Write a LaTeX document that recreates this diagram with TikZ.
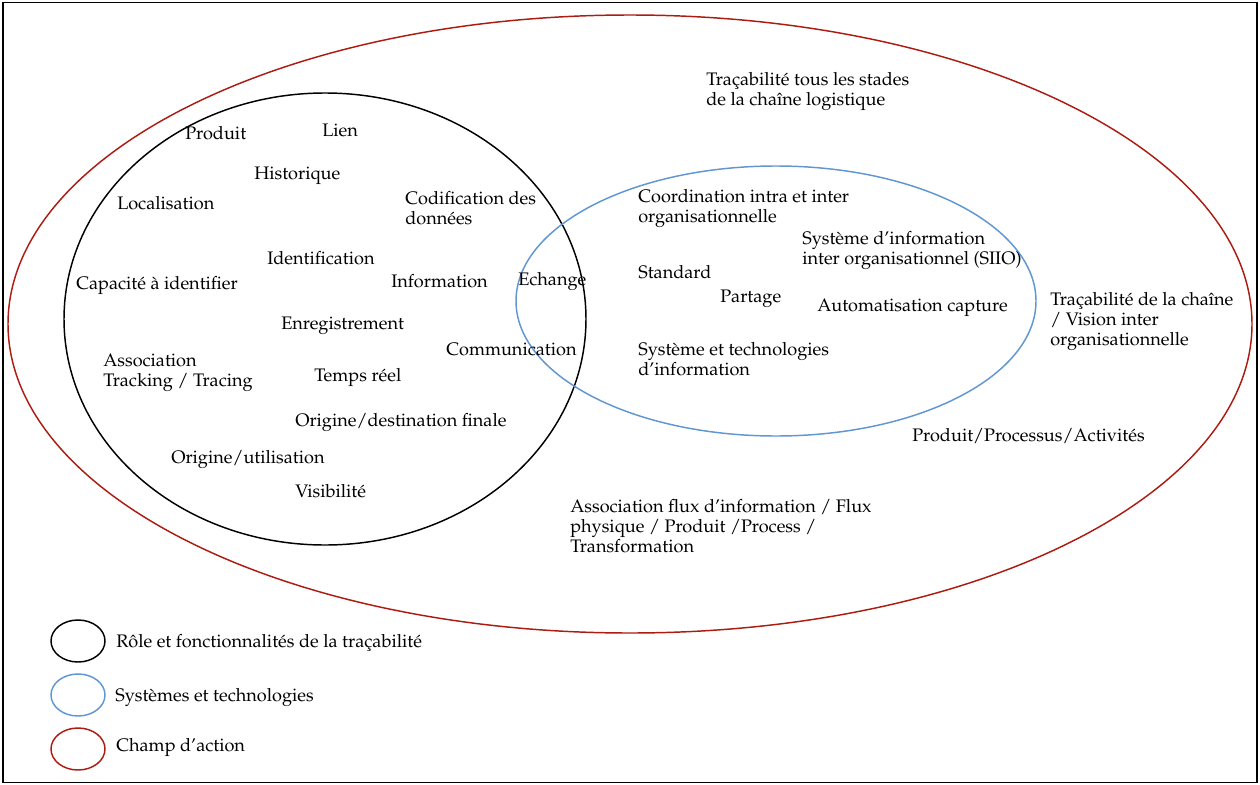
\documentclass[tikz,border=0pt]{standalone}
\usepackage[T1]{fontenc}
\usepackage{mathpazo}
\usetikzlibrary{shapes.geometric}

\definecolor{rouge}{RGB}{172,28,18}
\definecolor{bleu}{RGB}{96,150,210}

\tikzset{
  txt/.style={anchor=west, align=left, inner sep=0pt, yshift=-1.5pt, font=\fontsize{13.6}{15}\selectfont},
  ens/.style={ellipse, draw, line width=1.1pt, inner sep=0pt},
  leg/.style={ens, minimum width=40.5pt, minimum height=31.5pt}
}

\begin{document}
\begin{tikzpicture}[x=0.75pt, y=-0.75pt]
  \useasboundingbox (0,0) rectangle (1260,785);
  \node [draw, line width=1.2pt, minimum width=940.5pt, minimum height=585pt, inner sep=0pt] (cadre) at (630,392.5) {};

  % ensembles
  \node [ens, draw=rouge, minimum width=933pt, minimum height=463.5pt] (champ) at (630,324) {};
  \node [ens, draw=black, minimum width=391.5pt, minimum height=339pt] (role) at (325,319) {};
  \node [ens, draw=bleu, minimum width=390pt, minimum height=202.5pt] (sys) at (776,301) {};

  % role et fonctionnalites
  \node [txt] (produit) at (185,131) {Produit};
  \node [txt] (lien) at (322,128) {Lien};
  \node [txt] (histo) at (254,174) {Historique};
  \node [txt] (local) at (117,201) {Localisation};
  \node [txt] (codif) at (405,206) {Codification des\\données};
  \node [txt] (ident) at (267,256) {Identification};
  \node [txt] (capac) at (76,283) {Capacité à identifier};
  \node [txt] (info) at (391,279) {Information};
  \node [txt] (echange) at (518,279) {Echange};
  \node [txt] (enreg) at (281,324) {Enregistrement};
  \node [txt] (comm) at (446,347) {Communication};
  \node [txt] (assoc) at (103,371) {Association\\Tracking\ /\ Tracing};
  \node [txt] (temps) at (314,375) {Temps réel};
  \node [txt] (origdest) at (295,420) {Origine/destination finale};
  \node [txt] (origutil) at (171,457) {Origine/utilisation};
  \node [txt] (visib) at (295,489) {Visibilité};

  % systemes et technologies
  \node [txt] (coord) at (638,206) {Coordination intra et inter\\organisationnelle};
  \node [txt] (siio) at (802,248) {Système d'information\\inter organisationnel (SIIO)};
  \node [txt] (standard) at (638,270) {Standard};
  \node [txt] (partage) at (720,297) {Partage};
  \node [txt] (autom) at (817,306) {Automatisation capture};
  \node [txt] (systech) at (638,357) {Système et technologies\\d'information};

  % champ d'action
  \node [txt] (stades) at (706,89.5) {Traçabilité tous les stades\\de la chaîne logistique};
  \node [txt] (vision) at (1050,319.5) {Traçabilité de la chaîne\\/ Vision inter\\organisationnelle};
  \node [txt] (ppa) at (912,434) {Produit/Processus/Activités};
  \node [txt] (flux) at (570,524.5) {Association flux d'information / Flux\\physique / Produit /Process /\\Transformation};

  % legende
  \node [leg, draw=black] (lnoir) at (78,641) {};
  \node [leg, draw=bleu] (lbleu) at (78,695) {};
  \node [leg, draw=rouge] (lrouge) at (78,749) {};
  \node [txt] (tnoir) at (116,641) {Rôle et fonctionnalités de la traçabilité};
  \node [txt] (tbleu) at (115,695) {Systèmes et technologies};
  \node [txt] (trouge) at (116,745) {Champ d'action};
\end{tikzpicture}
\end{document}
